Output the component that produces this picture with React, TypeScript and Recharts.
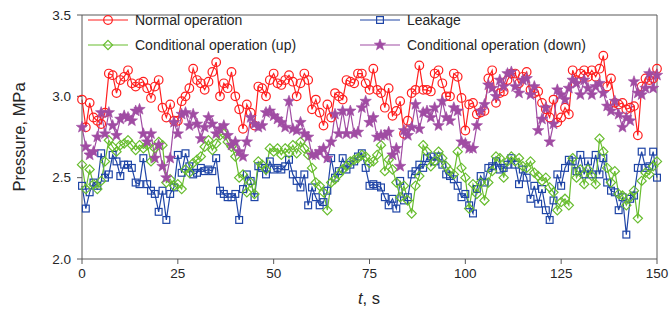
import React from 'react';
import { LineChart, Line, XAxis, YAxis, ReferenceLine } from 'recharts';

if (typeof document !== 'undefined') {
  document.body.style.margin = '0';
  document.body.style.overflow = 'hidden';
}

const NORMAL = [
  2.98, 2.81, 2.96, 2.87, 2.85, 2.83, 2.90, 3.14, 3.13, 3.02,
  3.10, 3.12, 3.16, 3.08, 3.06, 3.08, 3.09, 3.05, 2.99, 3.06,
  3.10, 2.93, 2.87, 2.95, 2.85, 2.85, 2.97, 3.00, 3.05, 3.17,
  3.10, 3.08, 3.04, 3.09, 3.15, 3.21, 3.00, 3.08, 3.05, 3.15,
  3.00, 2.92, 2.80, 2.95, 2.90, 2.82, 3.06, 3.05, 3.00, 3.10,
  3.14, 3.08, 3.07, 3.10, 3.13, 3.09, 3.00, 3.08, 3.14, 3.10,
  2.92, 2.98, 2.90, 2.82, 2.95, 2.87, 3.02, 3.00, 2.98, 3.10,
  3.09, 3.08, 3.14, 3.14, 3.08, 3.04, 3.17, 3.04, 3.02, 2.93,
  3.05, 2.88, 2.91, 2.97, 2.77, 2.85, 3.02, 3.04, 3.19, 3.04,
  3.04, 3.03, 3.14, 3.16, 3.08, 3.00, 3.00, 3.14, 3.12, 2.99,
  2.79, 2.95, 2.96, 2.89, 2.90, 2.91, 3.11, 3.16, 2.96, 3.02,
  3.03, 3.10, 3.14, 3.14, 3.08, 3.12, 3.15, 3.04, 3.02, 3.03,
  2.96, 2.92, 2.87, 2.98, 2.84, 2.87, 2.93, 2.89, 3.16, 3.10,
  3.14, 3.16, 3.12, 3.16, 3.12, 3.17, 3.25, 3.06, 3.11, 2.96,
  2.95, 2.96, 2.92, 2.93, 2.94, 2.76, 3.06, 3.11, 3.10, 3.11,
  3.17,
];

const LEAKAGE = [
  2.45, 2.31, 2.41, 2.47, 2.45, 2.65, 2.50, 2.52, 2.64, 2.60,
  2.51, 2.58, 2.58, 2.56, 2.47, 2.46, 2.62, 2.46, 2.42, 2.40,
  2.29, 2.42, 2.24, 2.40, 2.44, 2.64, 2.53, 2.65, 2.57, 2.52,
  2.53, 2.56, 2.54, 2.55, 2.54, 2.62, 2.42, 2.40, 2.38, 2.38,
  2.40, 2.24, 2.43, 2.52, 2.48, 2.38, 2.57, 2.56, 2.52, 2.60,
  2.55, 2.56, 2.55, 2.57, 2.61, 2.52, 2.48, 2.44, 2.52, 2.33,
  2.44, 2.38, 2.33, 2.35, 2.42, 2.62, 2.50, 2.54, 2.62, 2.55,
  2.58, 2.60, 2.63, 2.65, 2.56, 2.45, 2.46, 2.45, 2.44, 2.38,
  2.33, 2.37, 2.31, 2.48, 2.36, 2.38, 2.52, 2.54, 2.58, 2.56,
  2.62, 2.63, 2.60, 2.63, 2.58, 2.52, 2.51, 2.49, 2.45, 2.38,
  2.40, 2.33, 2.28, 2.43, 2.51, 2.47, 2.56, 2.57, 2.60, 2.55,
  2.56, 2.58, 2.62, 2.58, 2.46, 2.55, 2.50, 2.37, 2.45, 2.34,
  2.43, 2.30, 2.24, 2.36, 2.52, 2.45, 2.56, 2.61, 2.60, 2.54,
  2.64, 2.52, 2.60, 2.52, 2.64, 2.52, 2.62, 2.47, 2.42, 2.41,
  2.30, 2.38, 2.15, 2.37, 2.39, 2.56, 2.66, 2.56, 2.57, 2.66,
  2.50,
];

const COND_UP = [
  2.58, 2.43, 2.55, 2.46, 2.43, 2.48, 2.60, 2.73, 2.69, 2.66,
  2.70, 2.71, 2.73, 2.70, 2.67, 2.70, 2.68, 2.70, 2.60, 2.68,
  2.72, 2.70, 2.47, 2.49, 2.45, 2.46, 2.43, 2.55, 2.53, 2.59,
  2.61, 2.63, 2.69, 2.73, 2.67, 2.71, 2.76, 2.77, 2.72, 2.69,
  2.63, 2.50, 2.52, 2.41, 2.47, 2.40, 2.60, 2.58, 2.55, 2.68,
  2.66, 2.68, 2.64, 2.68, 2.65, 2.70, 2.65, 2.72, 2.68, 2.64,
  2.56, 2.47, 2.45, 2.41, 2.30, 2.47, 2.49, 2.52, 2.55, 2.57,
  2.60, 2.61, 2.62, 2.64, 2.63, 2.59, 2.60, 2.64, 2.70, 2.54,
  2.61, 2.55, 2.47, 2.38, 2.45, 2.36, 2.28, 2.45, 2.51, 2.70,
  2.66, 2.57, 2.60, 2.66, 2.62, 2.57, 2.54, 2.52, 2.66, 2.56,
  2.50, 2.31, 2.46, 2.40, 2.47, 2.36, 2.47, 2.54, 2.63, 2.62,
  2.50, 2.60, 2.63, 2.60, 2.62, 2.57, 2.56, 2.60, 2.53, 2.51,
  2.48, 2.50, 2.44, 2.41, 2.30, 2.35, 2.37, 2.33, 2.62, 2.50,
  2.55, 2.46, 2.55, 2.51, 2.46, 2.74, 2.66, 2.56, 2.47, 2.54,
  2.40, 2.39, 2.33, 2.38, 2.42, 2.25, 2.48, 2.53, 2.52, 2.57,
  2.60,
];

const COND_DOWN = [
  2.81, 2.69, 2.64, 2.66, 2.75, 2.90, 2.77, 2.90, 2.82, 2.76,
  2.86, 2.88, 2.87, 2.85, 2.91, 2.92, 2.77, 2.72, 2.77, 2.62,
  2.70, 2.57, 2.50, 2.62, 2.84, 2.77, 2.89, 2.90, 2.82, 2.89,
  2.83, 2.74, 2.81, 2.87, 2.83, 2.77, 2.80, 2.82, 2.76, 2.70,
  2.72, 2.66, 2.63, 2.72, 2.87, 2.83, 2.81, 2.82, 2.90, 2.91,
  2.88, 2.86, 2.84, 2.81, 2.97, 2.80, 2.79, 2.84, 2.77, 2.75,
  2.64, 2.64, 2.66, 2.68, 2.62, 2.72, 2.89, 2.77, 2.91, 2.77,
  2.91, 2.77, 2.78, 2.93, 2.97, 2.84, 2.87, 2.75, 2.76, 2.76,
  2.78, 2.64, 2.68, 2.57, 2.79, 2.76, 2.81, 2.95, 2.80, 2.90,
  2.91, 2.87, 2.93, 2.82, 2.97, 2.87, 2.85, 2.93, 2.91, 2.72,
  2.71, 2.68, 2.68, 2.82, 2.91, 2.95, 3.07, 3.05, 3.00, 3.10,
  3.06, 3.14, 3.15, 3.06, 3.02, 3.10, 3.11, 3.01, 3.06, 2.79,
  2.86, 2.93, 2.72, 2.83, 3.04, 3.01, 2.98, 3.05, 3.10, 3.08,
  3.01, 3.10, 3.05, 3.01, 3.06, 3.08, 3.02, 2.94, 2.91, 2.97,
  2.89, 2.81, 2.87, 2.85, 3.09, 3.02, 3.01, 3.05, 3.14, 3.05,
  3.13,
];

const TIME = NORMAL.map((_, i) => i);
const X_TICKS = [0, 25, 50, 75, 100, 125, 150];
const Y_TICKS = [2.0, 2.5, 3.0, 3.5];

const SERIES = [
  { key: 'normal', name: 'Normal operation', color: '#ff1f1f', shape: 'circle', values: NORMAL },
  { key: 'leak', name: 'Leakage', color: '#1f45a6', shape: 'square', values: LEAKAGE },
  { key: 'up', name: 'Conditional operation (up)', color: '#68bd2f', shape: 'diamond', values: COND_UP },
  { key: 'down', name: 'Conditional operation (down)', color: '#a04ca3', shape: 'star', values: COND_DOWN },
];

const data = TIME.map((t, i) => {
  const row: any = { t };
  SERIES.forEach((s) => { row[s.key] = s.values[i]; });
  return row;
});

function starPoints(cx: number, cy: number, ro: number, ri: number) {
  const pts: string[] = [];
  for (let k = 0; k < 10; k++) {
    const r = k % 2 === 0 ? ro : ri;
    const a = -Math.PI / 2 + (k * Math.PI) / 5;
    pts.push(`${cx + r * Math.cos(a)},${cy + r * Math.sin(a)}`);
  }
  return pts.join(' ');
}

function Marker({ cx, cy, shape, color }: any) {
  if (cx == null || cy == null || isNaN(cx) || isNaN(cy)) return null;
  switch (shape) {
    case 'circle':
      return <circle cx={cx} cy={cy} r={4.3} fill="none" stroke={color} strokeWidth={1.2} />;
    case 'square':
      return <rect x={cx - 3.4} y={cy - 3.4} width={6.8} height={6.8} fill="none" stroke={color} strokeWidth={1.2} />;
    case 'diamond':
      return (
        <polygon
          points={`${cx},${cy - 4.6} ${cx + 4.6},${cy} ${cx},${cy + 4.6} ${cx - 4.6},${cy}`}
          fill="none" stroke={color} strokeWidth={1.2}
        />
      );
    default:
      return <polygon points={starPoints(cx, cy, 6, 2.5)} fill={color} stroke={color} strokeWidth={0.6} />;
  }
}

const W = 670;
const H = 332;
const FONT = '"Liberation Sans", Arial, sans-serif';
const AXIS = '#595959';

export default function App() {
  const legendPos = [
    { x: 88, y: 20 },
    { x: 360, y: 20 },
    { x: 88, y: 45 },
    { x: 360, y: 45 },
  ];
  return (
    <div style={{ position: 'relative', width: W, height: H, fontFamily: FONT, overflow: 'hidden' }}>
      <LineChart width={W} height={H} data={data} margin={{ top: 15, right: 13, bottom: 43, left: 32 }}>
        <XAxis
          dataKey="t" type="number" domain={[0, 150]} ticks={X_TICKS}
          stroke={AXIS} tickSize={5} tickMargin={4} height={30}
          tick={{ fill: '#262626', fontSize: 13.5, fontFamily: FONT }}
        />
        <YAxis
          type="number" domain={[2, 3.5]} ticks={Y_TICKS} width={50}
          stroke={AXIS} tickSize={5} tickMargin={6}
          tickFormatter={(v: number) => v.toFixed(1)}
          tick={{ fill: '#262626', fontSize: 13.5, fontFamily: FONT }}
        />
        <ReferenceLine y={3.5} stroke={AXIS} strokeWidth={1} />
        <ReferenceLine x={150} stroke={AXIS} strokeWidth={1} />
        {SERIES.map((s) => (
          <Line
            key={s.key}
            dataKey={s.key}
            name={s.name}
            stroke={s.color}
            strokeWidth={1.2}
            isAnimationActive={false}
            dot={(p: any) => <Marker key={`${s.key}-${p.index}`} cx={p.cx} cy={p.cy} shape={s.shape} color={s.color} />}
            activeDot={false}
          />
        ))}
      </LineChart>
      <svg width={W} height={70} style={{ position: 'absolute', left: 0, top: 0, pointerEvents: 'none' }}>
        {SERIES.map((s, i) => {
          const p = legendPos[i];
          return (
            <g key={s.key}>
              <line x1={p.x} y1={p.y} x2={p.x + 40} y2={p.y} stroke={s.color} strokeWidth={1.2} />
              <Marker cx={p.x + 20} cy={p.y} shape={s.shape} color={s.color} />
              <text x={p.x + 47} y={p.y + 5} fontSize={14} fill="#262626" fontFamily={FONT}>{s.name}</text>
            </g>
          );
        })}
      </svg>
      <div
        style={{
          position: 'absolute', left: 19, top: 137, transform: 'translate(-50%, -50%) rotate(-90deg)',
          fontSize: 16.5, color: '#262626', whiteSpace: 'nowrap',
        }}
      >
        Pressure, MPa
      </div>
      <div
        style={{
          position: 'absolute', left: 369, top: 298, transform: 'translate(-50%, -50%)',
          fontSize: 16.5, color: '#262626', whiteSpace: 'nowrap',
        }}
      >
        <i>t</i>, s
      </div>
    </div>
  );
}
